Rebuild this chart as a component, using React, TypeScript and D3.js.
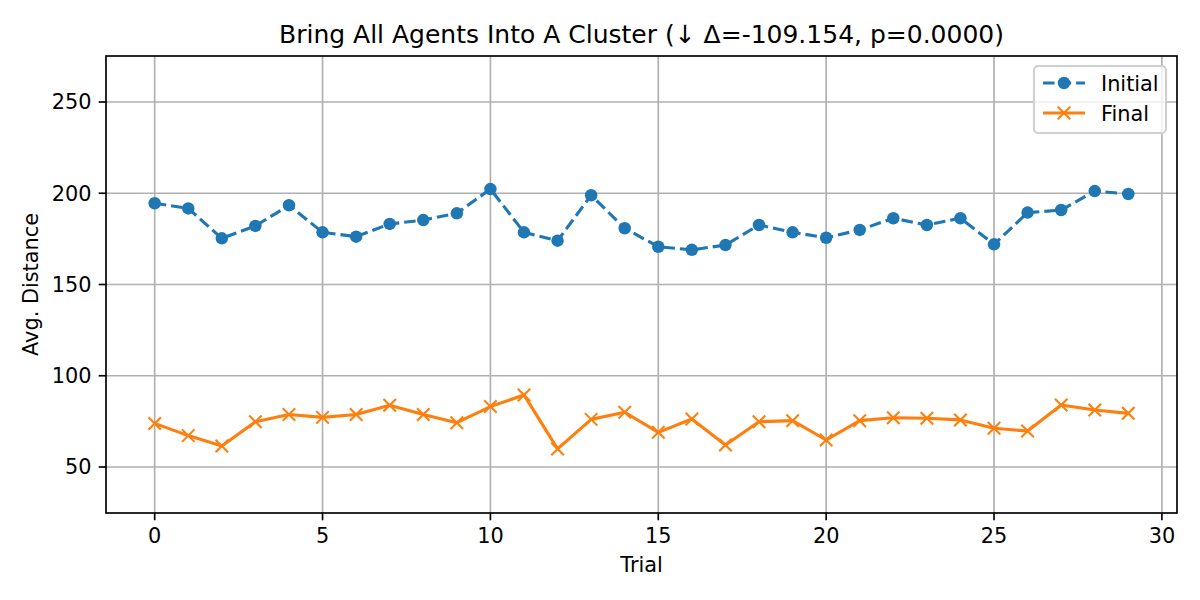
import React from "react";
import * as d3 from "d3";

const trials: number[] = Array.from({ length: 30 }, (_, i) => i);
const initialValues: number[] = [
  194.5, 191.7, 175.3, 182.1, 193.4, 178.6, 176.2, 183.2, 185.3, 189.0,
  202.3, 178.6, 174.0, 198.9, 180.8, 170.7, 169.0, 171.6, 182.6, 178.6,
  175.6, 179.9, 186.3, 182.6, 186.3, 172.0, 189.4, 190.8, 201.2, 199.6,
];
const finalValues: number[] = [
  73.9, 67.2, 61.5, 74.8, 78.8, 77.2, 78.8, 83.8, 78.8, 74.3,
  83.1, 89.5, 59.9, 76.1, 80.0, 69.0, 76.3, 62.1, 74.8, 75.4,
  64.8, 75.4, 77.0, 76.7, 75.8, 71.2, 69.7, 84.0, 81.2, 79.4,
];
const xTicks: number[] = [0, 5, 10, 15, 20, 25, 30];
const yTicks: number[] = [50, 100, 150, 200, 250];
const seriesNames: string[] = ["Initial", "Final"];
const title = "Bring All Agents Into A Cluster (↓ Δ=-109.154, p=0.0000)";

const W = 1200;
const H = 600;
const L = 106, R = 1177, T = 56, B = 513;
const BLUE = "#1f77b4";
const ORANGE = "#ff7f0e";
const FONT = "DejaVu Sans, sans-serif";
const PT = 150 / 72;

export default function App() {
  const x = d3.scaleLinear().domain([-1.45, 30.45]).range([L, R]);
  const y = d3.scaleLinear().domain([24.8, 275.2]).range([B, T]);
  const lineGen = d3
    .line<number>()
    .x((_, i) => x(trials[i]))
    .y((d) => y(d));
  const lw = 1.5 * PT;
  const ms = 3 * PT;
  const fs = 10 * PT;
  const tickLen = 3.5 * PT;
  const dash = `${3.7 * lw},${1.6 * lw}`;
  const xMark = (cx: number, cy: number, key: string, w = ms) => (
    <g key={key}>
      <line x1={cx - w} y1={cy - w} x2={cx + w} y2={cy + w} stroke={ORANGE} strokeWidth={PT} />
      <line x1={cx - w} y1={cy + w} x2={cx + w} y2={cy - w} stroke={ORANGE} strokeWidth={PT} />
    </g>
  );
  return (
    <svg
      width={W}
      height={H}
      style={{ position: "absolute", left: 0, top: 0, background: "#fff" }}
      fontFamily={FONT}
    >
      <rect x={0} y={0} width={W} height={H} fill="#fff" />
      {/* grid */}
      {xTicks.map((t) => (
        <line key={"gx" + t} x1={x(t)} x2={x(t)} y1={T} y2={B} stroke="#b0b0b0" strokeWidth={0.8 * PT} />
      ))}
      {yTicks.map((t) => (
        <line key={"gy" + t} x1={L} x2={R} y1={y(t)} y2={y(t)} stroke="#b0b0b0" strokeWidth={0.8 * PT} />
      ))}
      {/* series */}
      <path
        d={lineGen(initialValues) || ""}
        fill="none"
        stroke={BLUE}
        strokeWidth={lw}
        strokeDasharray={dash}
      />
      {initialValues.map((v, i) => (
        <circle key={"c" + i} cx={x(trials[i])} cy={y(v)} r={ms} fill={BLUE} />
      ))}
      <path d={lineGen(finalValues) || ""} fill="none" stroke={ORANGE} strokeWidth={lw} strokeLinejoin="round" />
      {finalValues.map((v, i) => xMark(x(trials[i]), y(v), "x" + i))}
      {/* spines */}
      <rect x={L} y={T} width={R - L} height={B - T} fill="none" stroke="#000" strokeWidth={0.8 * PT} />
      {/* ticks */}
      {xTicks.map((t) => (
        <g key={"tx" + t}>
          <line x1={x(t)} x2={x(t)} y1={B} y2={B + tickLen} stroke="#000" strokeWidth={0.8 * PT} />
          <text x={x(t)} y={543} textAnchor="middle" fontSize={fs}>
            {t}
          </text>
        </g>
      ))}
      {yTicks.map((t) => (
        <g key={"ty" + t}>
          <line x1={L - tickLen} x2={L} y1={y(t)} y2={y(t)} stroke="#000" strokeWidth={0.8 * PT} />
          <text x={L - tickLen - 7.3} y={y(t) + 7.4} textAnchor="end" fontSize={fs}>
            {t}
          </text>
        </g>
      ))}
      {/* labels */}
      <text x={(L + R) / 2} y={572} textAnchor="middle" fontSize={fs}>
        Trial
      </text>
      <text
        transform={`translate(38, ${(T + B) / 2}) rotate(-90)`}
        textAnchor="middle"
        fontSize={fs}
      >
        Avg. Distance
      </text>
      <text x={(L + R) / 2} y={43} textAnchor="middle" fontSize={12 * PT}>
        {title}
      </text>
      {/* legend */}
      <rect
        x={1034}
        y={66}
        width={132}
        height={67}
        rx={4}
        fill="#fff"
        fillOpacity={0.8}
        stroke="#d0d0d0"
        strokeWidth={PT}
      />
      <line x1={1043} x2={1085} y1={83} y2={83} stroke={BLUE} strokeWidth={lw} strokeDasharray={dash} />
      <circle cx={1064} cy={83} r={ms} fill={BLUE} />
      <text x={1101} y={90.5} fontSize={fs}>
        {seriesNames[0]}
      </text>
      <line x1={1043} x2={1085} y1={113} y2={113} stroke={ORANGE} strokeWidth={lw} />
      {xMark(1064, 113, "legx")}
      <text x={1101} y={120.5} fontSize={fs}>
        {seriesNames[1]}
      </text>
    </svg>
  );
}
